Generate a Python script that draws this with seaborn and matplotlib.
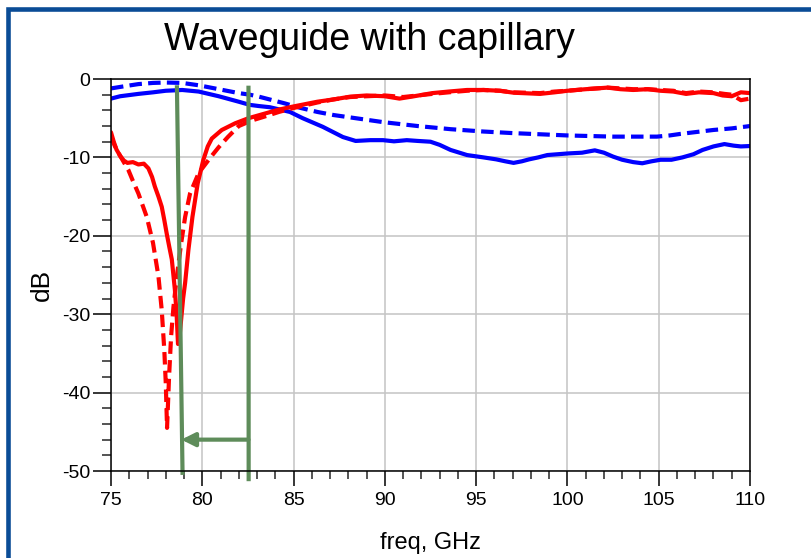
import numpy as np
import pandas as pd
import seaborn as sns
import matplotlib.pyplot as plt
from matplotlib.lines import Line2D

# traces: freq in GHz, level in dB
red_solid_f = [75.0, 75.15, 75.3, 75.5, 75.7, 75.9, 76.2, 76.5, 76.8, 77.05, 77.25, 77.4, 77.6,
               77.78, 77.92, 78.05, 78.2, 78.33, 78.5, 78.6, 78.67, 78.75, 78.85, 78.95, 79.06,
               79.24, 79.46, 79.75, 80.06, 80.3, 80.52, 81.07, 81.8, 82.53, 83.44, 84.2, 85.0,
               86.3, 87.2, 88.1, 89.0, 90.0, 90.8, 91.6, 92.6, 93.5, 94.5, 95.4, 96.3, 97.05,
               98.5, 99.3, 100.0, 101.0, 102.2, 102.9, 103.6, 104.4, 105.1, 105.8, 106.5, 107.2,
               108.0, 108.5, 109.0, 109.5, 110.0]
red_solid_db = [-6.8, -8.0, -9.0, -9.8, -10.4, -10.7, -10.6, -10.9, -10.8, -11.4, -12.5, -13.7, -15.0,
                -16.3, -18.0, -19.7, -21.5, -23.0, -26.9, -30.3, -33.8, -33.0, -30.5, -28.0, -26.0,
                -21.8, -17.6, -13.3, -10.3, -8.6, -7.6, -6.5, -5.65, -5.0, -4.4, -3.9, -3.5,
                -2.9, -2.6, -2.25, -2.1, -2.2, -2.5, -2.2, -1.8, -1.6, -1.4, -1.4, -1.5, -1.75,
                -1.9, -1.7, -1.5, -1.3, -1.1, -1.3, -1.4, -1.3, -1.5, -1.6, -1.9, -1.7,
                -1.8, -2.1, -2.2, -1.7, -1.8]

red_dash_f = [75.0, 75.2, 75.5, 75.95, 76.2, 76.5, 76.96, 77.3, 77.6, 77.78, 77.92, 78.0, 78.07,
              78.18, 78.29, 78.42, 78.6, 78.84, 79.06, 79.33, 79.8, 80.45, 80.9, 81.4, 82.0,
              82.7, 83.4, 84.2, 85.0, 86.3, 87.2, 88.1, 89.0, 90.0, 91.0, 92.6, 93.5, 94.5,
              95.4, 96.3, 97.0, 98.5, 99.3, 100.0, 101.0, 102.2, 102.9, 103.6, 104.4, 105.1,
              105.8, 106.5, 107.2, 108.0, 108.6, 109.0, 109.5, 110.0]
red_dash_db = [-7.3, -8.5, -9.8, -11.6, -13.0, -14.6, -17.6, -20.9, -25.2, -29.5, -34.6, -38.8, -44.5,
               -38.0, -32.9, -29.1, -25.3, -21.0, -17.6, -14.6, -12.0, -10.0, -8.7, -7.4, -6.0,
               -5.3, -4.8, -4.2, -3.7, -3.0, -2.6, -2.3, -2.2, -2.1, -2.3, -1.9, -1.7, -1.5,
               -1.4, -1.5, -1.7, -1.8, -1.6, -1.5, -1.3, -1.1, -1.2, -1.3, -1.3, -1.4,
               -1.5, -1.8, -1.6, -1.7, -1.9, -2.0, -2.7, -2.5]

blue_solid_f = [75.0, 75.5, 76.5, 77.3, 78.0, 78.9, 79.8, 80.9, 82.0, 82.6, 83.1, 83.7, 84.8, 85.5,
                86.6, 87.7, 88.4, 89.2, 89.9, 90.5, 91.2, 91.8, 92.5, 93.0, 93.6, 94.5, 95.4,
                96.1, 96.6, 97.05, 97.5, 97.9, 98.4, 98.9, 100.0, 100.8, 101.5, 102.0, 102.5,
                103.0, 103.6, 104.1, 104.6, 105.1, 105.7, 106.3, 106.9, 107.4, 108.0, 108.6,
                109.1, 109.5, 110.0]
blue_solid_db = [-2.5, -2.2, -1.9, -1.7, -1.5, -1.4, -1.6, -2.2, -2.9, -3.3, -3.45, -3.6, -4.2, -5.0,
                 -6.1, -7.4, -7.9, -7.8, -7.8, -7.95, -7.8, -7.9, -8.0, -8.4, -9.05, -9.7, -10.0,
                 -10.25, -10.5, -10.7, -10.5, -10.25, -10.0, -9.7, -9.5, -9.4, -9.1, -9.4, -9.9,
                 -10.3, -10.6, -10.75, -10.5, -10.3, -10.3, -10.0, -9.6, -9.05, -8.6, -8.3,
                 -8.5, -8.6, -8.55]

blue_dash_f = [75.0, 75.8, 76.5, 77.3, 78.0, 78.9, 79.8, 80.9, 82.0, 82.6, 83.1, 84.5, 85.4, 86.3,
               87.2, 88.1, 89.0, 89.9, 91.8, 93.6, 95.4, 97.0, 98.5, 100.0, 102.5, 104.9, 105.6,
               106.2, 107.1, 108.0, 109.0, 110.0]
blue_dash_db = [-1.2, -0.9, -0.65, -0.5, -0.45, -0.5, -0.8, -1.3, -1.8, -2.0, -2.25, -3.1, -3.7, -4.2,
                -4.6, -4.9, -5.2, -5.5, -6.0, -6.4, -6.7, -6.9, -7.05, -7.2, -7.35, -7.35, -7.2,
                -7.0, -6.75, -6.5, -6.3, -6.0]

x_ticks = [75, 80, 85, 90, 95, 100, 105, 110]
x_labels = ['75', '80', '85', '90', '95', '100', '105', '110']
y_ticks = [-50, -40, -30, -20, -10, 0]
y_labels = ['-50', '-40', '-30', '-20', '-10', '0']

# markers: two vertical lines and the arrow between them
marker1_f = [78.61, 78.92]
marker1_db = [-0.8, -50.5]
marker2_f = [82.53, 82.54]
marker2_db = [-0.85, -51.3]
arrow_from = (82.53, -46.0)
arrow_to = (78.85, -46.0)

frames = []
for f, v, col, kind in [(blue_dash_f, blue_dash_db, 'blue', 'sim'),
                        (blue_solid_f, blue_solid_db, 'blue', 'meas'),
                        (red_dash_f, red_dash_db, 'red', 'sim'),
                        (red_solid_f, red_solid_db, 'red', 'meas')]:
    frames.append(pd.DataFrame({'freq': f, 'dB': v, 'color': col, 'kind': kind}))
df = pd.concat(frames, ignore_index=True)

sns.set_style("ticks")
plt.rcParams['font.family'] = ['Liberation Sans', 'DejaVu Sans']
plt.rcParams['axes.unicode_minus'] = False
plt.rcParams['text.color'] = 'black'
plt.rcParams['axes.labelcolor'] = 'black'

fig = plt.figure(figsize=(8.12, 5.58), dpi=100)
ax = fig.add_axes([111 / 812, 1 - 471 / 558, 639 / 812, 392 / 558])

green = '#5e8c5a'

sns.lineplot(data=df, x='freq', y='dB', hue='color', style='kind',
             hue_order=['blue', 'red'], style_order=['meas', 'sim'],
             palette={'blue': '#0000ff', 'red': '#ff0000'},
             dashes={'meas': '', 'sim': (3, 1.5)},
             estimator=None, sort=False, linewidth=3, legend=False, ax=ax)

ax.plot(marker1_f, marker1_db, color=green, lw=3, clip_on=False, solid_capstyle='butt')
ax.plot(marker2_f, marker2_db, color=green, lw=3, clip_on=False, solid_capstyle='butt')
ax.annotate('', xy=arrow_to, xytext=arrow_from,
            arrowprops=dict(arrowstyle='-|>', color=green, lw=3, mutation_scale=20,
                            shrinkA=0, shrinkB=0))

ax.set_xlim(75, 110)
ax.set_ylim(-50, 0)
ax.set_xticks(x_ticks)
ax.set_xticklabels(x_labels)
ax.set_xticks(np.arange(75, 111, 1), minor=True)
ax.set_yticks(y_ticks)
ax.set_yticklabels(y_labels)
ax.set_yticks(np.arange(-50, 1, 2), minor=True)
ax.grid(True, which='major', color='#c4c4c4', lw=1.1)
ax.set_axisbelow(True)
for s in ax.spines.values():
    s.set_visible(True)
    s.set_color('black')
    s.set_linewidth(1.1)

ax.tick_params(axis='x', which='major', length=11, width=1.1, pad=4, labelsize=14, colors='black')
ax.tick_params(axis='x', which='minor', length=6, width=1.1)
ax.tick_params(axis='y', which='major', length=13, width=1.1, pad=2, labelsize=14, colors='black')
ax.tick_params(axis='y', which='minor', length=6.5, width=1.1)

ax.set_xlabel('freq, GHz', fontsize=17)
ax.set_ylabel('dB', fontsize=19)
ax.xaxis.set_label_coords(0.5, -0.155)
ax.yaxis.set_label_coords(-0.09, 0.474)

fig.text(369 / 812, 1 - 50 / 558, 'Waveguide with capillary', ha='center', va='baseline', fontsize=27)

# blue frame of the slide, open on the right and bottom
fig.add_artist(Line2D([8.5 / 812, 8.5 / 812, 1.0], [0.0, 1 - 8.5 / 558, 1 - 8.5 / 558],
                      transform=fig.transFigure, color='#0a4c96', lw=3.3,
                      solid_joinstyle='miter'))

fig.savefig('out.png', dpi=100)
